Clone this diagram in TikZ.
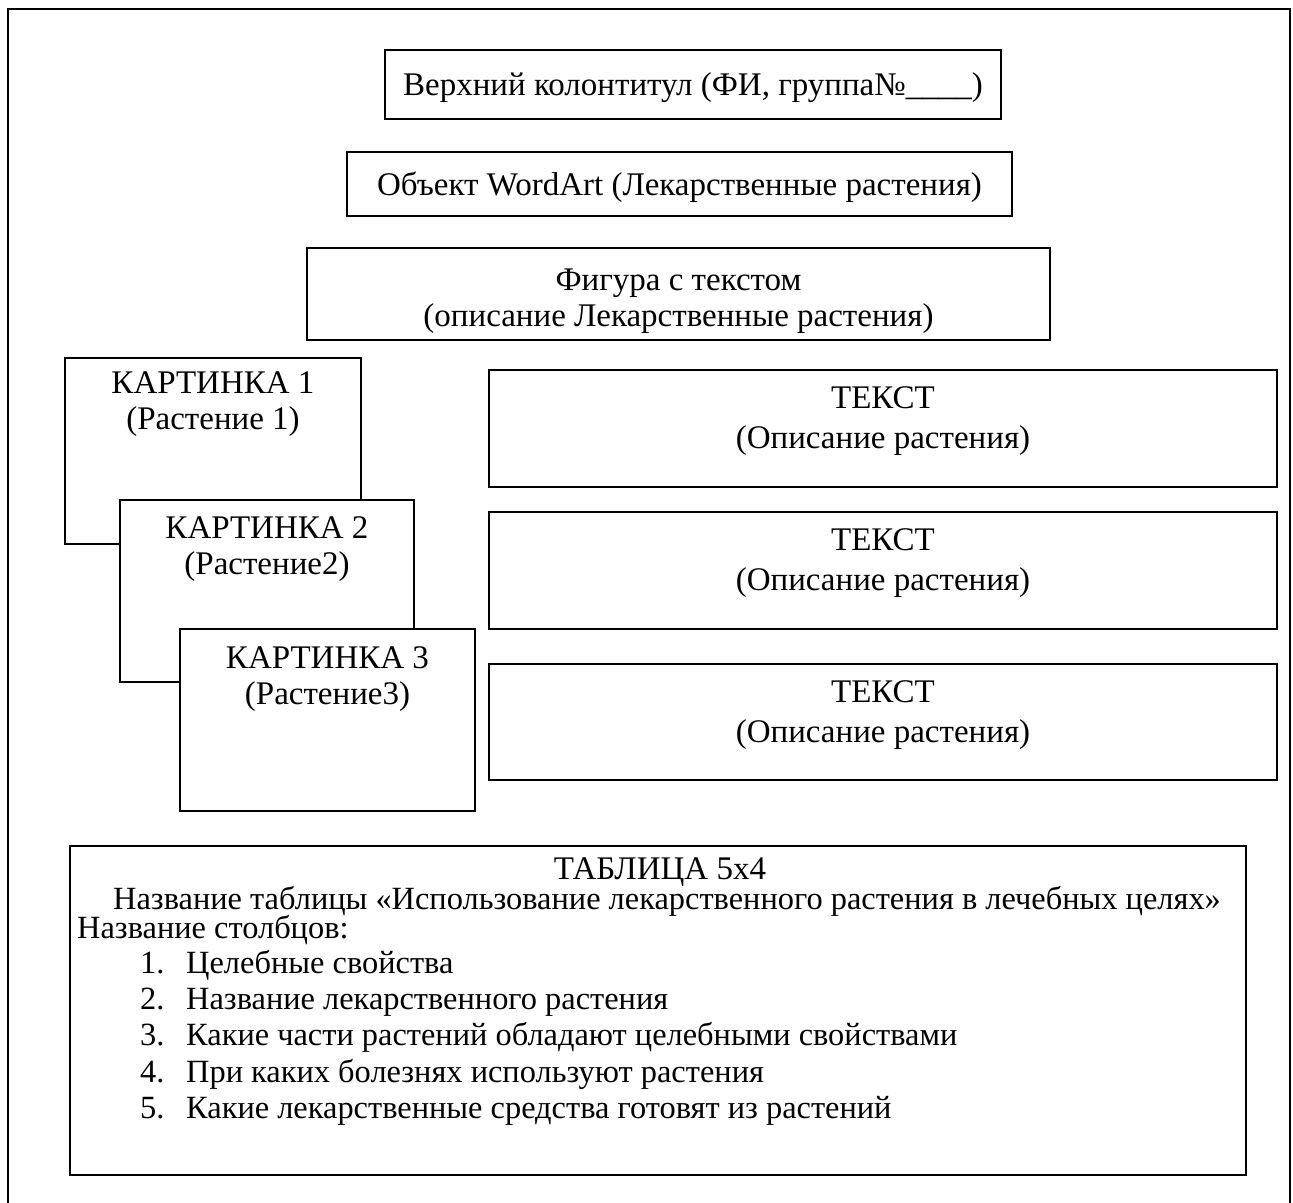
\documentclass[tikz,border=0pt]{standalone}
\usepackage{fontspec}
\setmainfont{Liberation Serif}
\begin{document}
\begin{tikzpicture}[x=1pt,y=-1pt,
  box/.style={draw=black, line width=1.8pt, fill=white, inner sep=0pt},
  txt/.style={inner sep=0pt, anchor=base, font=\fontsize{33}{37}\selectfont},
  ltxt/.style={inner sep=0pt, anchor=base west, font=\fontsize{32.4}{37}\selectfont}]
\clip (0,0) rectangle (1293,1202);
\fill[white] (0,0) rectangle (1293,1202);
% outer frame (open at bottom)
\draw[line width=1.8pt] (8,1215) -- (8,9) -- (1290,9) -- (1290,1215);

% header
\node[box, minimum width=616pt, minimum height=69pt] (hdr) at (693,84.5) {};
\node[txt] (hdrt) at (693,95) {Верхний колонтитул (ФИ, группа№\_\_\_\_)};
% wordart
\node[box, minimum width=665pt, minimum height=64pt] (wa) at (679.5,184) {};
\node[txt] (wat) at (679.5,195) {Объект WordArt (Лекарственные растения)};
% figure
\node[box, minimum width=743pt, minimum height=92pt] (fig) at (678.5,294) {};
\node[txt] (fig1) at (678.5,290) {Фигура с текстом};
\node[txt] (fig2) at (678.5,326) {(описание Лекарственные растения)};

% pictures
\node[box, minimum width=296pt, minimum height=186pt] (k1) at (213,451) {};
\node[txt] (k1a) at (213,393) {КАРТИНКА 1};
\node[txt] (k1b) at (213,429) {(Растение 1)};
\node[box, minimum width=294pt, minimum height=182pt] (k2) at (267,591) {};
\node[txt] (k2a) at (267,538) {КАРТИНКА 2};
\node[txt] (k2b) at (267,574) {(Растение2)};
\node[box, minimum width=295pt, minimum height=182pt] (k3) at (327.5,720) {};
\node[txt] (k3a) at (327.5,668) {КАРТИНКА 3};
\node[txt] (k3b) at (327.5,704) {(Растение3)};

% text boxes
\node[box, minimum width=788pt, minimum height=117pt] (t1) at (883,428.5) {};
\node[txt] (t1a) at (883,408) {ТЕКСТ};
\node[txt] (t1b) at (883,448) {(Описание растения)};
\node[box, minimum width=788pt, minimum height=117pt] (t2) at (883,570.5) {};
\node[txt] (t2a) at (883,550) {ТЕКСТ};
\node[txt] (t2b) at (883,590) {(Описание растения)};
\node[box, minimum width=788pt, minimum height=116pt] (t3) at (883,722) {};
\node[txt] (t3a) at (883,702) {ТЕКСТ};
\node[txt] (t3b) at (883,742) {(Описание растения)};

% table
\node[box, minimum width=1176pt, minimum height=329pt] (tab) at (658,1010.5) {};
\node[txt] (tabh) at (660,879) {ТАБЛИЦА 5х4};
\node[ltxt] (tabn) at (113,909) {Название таблицы «Использование лекарственного растения в лечебных целях»};
\node[ltxt] (tabc) at (77,938) {Название столбцов:};
\node[ltxt] (n1) at (140,973) {1.};
\node[ltxt] (i1) at (186,973) {Целебные свойства};
\node[ltxt] (n2) at (140,1009) {2.};
\node[ltxt] (i2) at (186,1009) {Название лекарственного растения};
\node[ltxt] (n3) at (140,1045) {3.};
\node[ltxt] (i3) at (186,1045) {Какие части растений обладают целебными свойствами};
\node[ltxt] (n4) at (140,1082) {4.};
\node[ltxt] (i4) at (186,1082) {При каких болезнях используют растения};
\node[ltxt] (n5) at (140,1118) {5.};
\node[ltxt] (i5) at (186,1118) {Какие лекарственные средства готовят из растений};
\end{tikzpicture}
\end{document}
